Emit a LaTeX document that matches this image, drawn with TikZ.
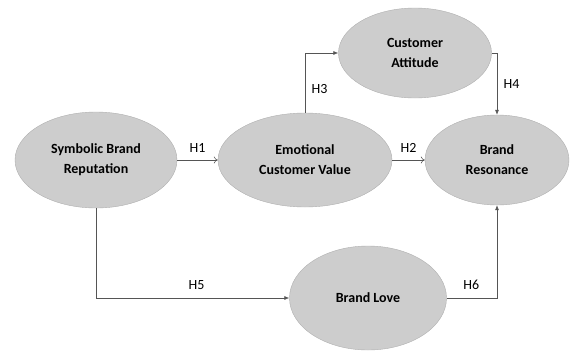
\documentclass[tikz,border=0pt]{standalone}
\usepackage{fontspec}
\setmainfont{Carlito}
\usetikzlibrary{arrows.meta,shapes.geometric}
\definecolor{bubble}{RGB}{205,205,205}
\definecolor{rim}{RGB}{175,175,175}
\definecolor{wire}{RGB}{85,85,85}
\tikzset{construct/.style = {draw=rim, fill=bubble, ellipse, inner sep=0pt, align=center, font=\fontsize{14}{20}\selectfont\bfseries},
	hpath/.style = {draw=wire, line width=0.6pt, -{Latex[length=5pt,width=4pt]}},
	openpath/.style = {draw=wire, line width=0.6pt, -{To[length=4pt,width=7pt]}},
	hyp/.style = {font=\fontsize{14}{16}\selectfont}}

\begin{document}
\begin{tikzpicture}[x=1pt, y=-1pt]
	\useasboundingbox (0,0) rectangle (570,351);
	\node (SBR) [construct, minimum width=162pt, minimum height=96pt] at (96,160) {Symbolic Brand\\Reputation};
	\node (ECV) [construct, minimum width=174pt, minimum height=94pt] at (305,160) {Emotional\\Customer Value};
	\node (CA) [construct, minimum width=153pt, minimum height=90pt] at (415,53) {Customer\\Attitude};
	\node (BR) [construct, minimum width=144pt, minimum height=90pt] at (497,160) {Brand\\Resonance};
	\node (BL) [construct, minimum width=157pt, minimum height=104pt] at (368,298) {Brand Love};
	% hypotheses
	\draw[openpath] (SBR) -- (ECV) node [hyp, midway, above=4pt] {H1};
	\draw[openpath] (ECV) -- (BR) node [hyp, midway, above=4pt] {H2};
	\draw[hpath] (ECV.north) |- (CA) node [hyp, pos=0.2, right=3pt] {H3};
	\draw[hpath] (CA.east) -| (BR.north) node [hyp, pos=0.75, right=3pt] {H4};
	\draw[hpath] (SBR.south) |- (BL) node [hyp, pos=0.76, above=5pt] {H5};
	\draw[hpath] (BL.east) -| (BR.south) node [hyp, pos=0.245, above=5pt] {H6};
\end{tikzpicture}
\end{document}
